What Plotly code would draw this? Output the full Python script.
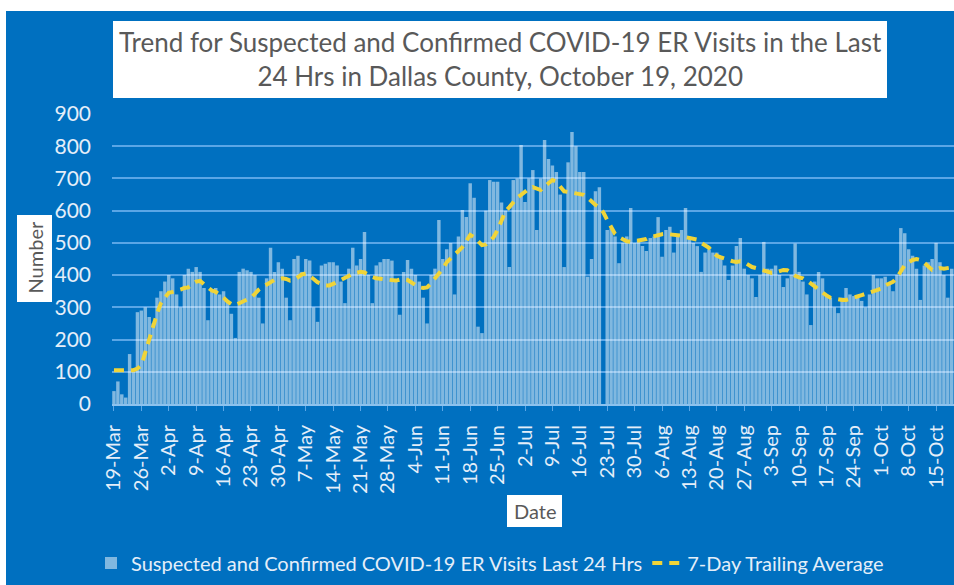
import pandas as pd
import plotly.graph_objects as go

start_date = "2020-03-19"

# Daily suspected + confirmed COVID-19 ER visits (Mar 19 - Oct 19, 2020)
visits = [
    40, 70, 30, 20, 155, 100, 285,
    290, 300, 270, 250, 330, 350, 380,
    400, 390, 340, 300, 400, 420, 410,
    425, 410, 360, 260, 350, 360, 340,
    350, 320, 280, 205, 410, 420, 415,
    410, 400, 330, 250, 390, 485, 410,
    440, 420, 330, 260, 450, 460, 410,
    450, 445, 300, 255, 430, 435, 440,
    440, 430, 380, 313, 420, 485, 430,
    450, 534, 400, 313, 430, 440, 450,
    450, 445, 380, 277, 410, 447, 420,
    400, 380, 330, 250, 400, 420, 571,
    450, 480, 500, 340, 520, 602, 580,
    685, 640, 240, 220, 600, 695, 690,
    690, 625, 600, 425, 695, 700, 804,
    627, 700, 726, 540, 700, 819, 760,
    740, 720, 650, 425, 750, 844, 800,
    720, 720, 395, 450, 660, 673, 0,
    540, 545, 520, 437, 500, 520, 608,
    500, 510, 490, 475, 515, 520, 580,
    457, 540, 550, 470, 520, 540, 608,
    520, 500, 490, 410, 470, 480, 470,
    470, 460, 430, 385, 430, 490, 515,
    420, 400, 390, 332, 400, 503, 420,
    420, 430, 400, 363, 390, 400, 498,
    410, 380, 340, 245, 380, 410, 390,
    340, 330, 300, 282, 330, 360, 340,
    335, 330, 320, 300, 340, 400, 390,
    390, 395, 370, 350, 400, 546, 530,
    480, 460, 420, 323, 430, 440, 450,
    500, 440, 400, 330, 420,
]

# 7-day trailing average
trailing_avg = [
    105, 105, 105, 103, 105, 105, 110,
    120, 160, 205, 240, 280, 313, 330,
    345, 348, 350, 355, 360, 362, 372,
    380, 382, 372, 360, 352, 348, 340,
    330, 318, 310, 307, 312, 318, 322,
    330, 342, 355, 363, 370, 378, 385,
    387, 390, 388, 383, 385, 395, 402,
    405, 398, 388, 378, 372, 368, 368,
    372, 378, 385, 392, 398, 404, 407,
    410, 408, 400, 394, 390, 388, 388,
    385, 382, 383, 386, 388, 385, 378,
    368, 362, 360, 362, 375, 392, 405,
    420, 440, 452, 462, 475, 487, 505,
    525, 518, 505, 493, 495, 505, 518,
    540, 570, 598, 611, 625, 640, 649,
    660, 668, 673, 668, 664, 675, 686,
    695, 690, 676, 660, 658, 655, 652,
    650, 649, 640, 628, 618, 611, 595,
    571, 548, 528, 518, 510, 505, 503,
    505, 507, 509, 512, 518, 522, 525,
    527, 528, 527, 526, 525, 522, 518,
    516, 515, 510, 500, 493, 485, 470,
    460, 455, 450, 446, 443, 441, 443,
    440, 432, 425, 422, 418, 412, 408,
    407, 408, 412, 416, 415, 405, 398,
    393, 390, 383, 375, 365, 355, 345,
    337, 330, 327, 324, 323, 323, 326,
    330, 334, 338, 342, 346, 350, 354,
    358, 368, 375, 379, 392, 410, 431,
    440, 447, 450, 447, 438, 425, 416,
    418, 422, 420, 422, 424,
]

dates = pd.date_range(start_date, periods=len(visits), freq="D")

title_text = ("Trend for Suspected and Confirmed COVID-19 ER Visits in the Last<br>"
              "24 Hrs in Dallas County, October 19, 2020")
bar_name = "Suspected and Confirmed COVID-19 ER Visits Last 24 Hrs"
line_name = "7-Day Trailing Average"

BLUE = "#0070C0"
LIGHT = "#e4eef9"
GRID = "#5aa6e6"
DARK_TXT = "#595959"
FONT = "Lato, Calibri, sans-serif"

fig = go.Figure()
fig.add_trace(go.Bar(
    x=dates, y=visits, name=bar_name,
    marker=dict(color="rgba(255,255,255,0.5)", line=dict(width=0)),
))
fig.add_trace(go.Scatter(
    x=dates, y=trailing_avg, name=line_name, mode="lines",
    line=dict(color="#F0D438", width=4, dash="10px,7px"),
))

# geometry (pixels)
W, H = 954, 585
L, R, T, B = 112, 0, 114, 181
pw = W - L - R
ph = H - T - B

def px(x):
    return (x - L) / pw

def py(y):
    return (H - B - y) / ph

shapes = [
    dict(type="rect", xref="paper", yref="paper", layer="below",
         x0=px(6), x1=px(W), y0=py(H), y1=py(11),
         fillcolor=BLUE, line=dict(width=0)),
    dict(type="rect", xref="paper", yref="paper", layer="above",
         x0=px(113), x1=px(887), y0=py(98), y1=py(21),
         fillcolor="white", line=dict(width=0)),
    dict(type="rect", xref="paper", yref="paper", layer="above",
         x0=px(17), x1=px(52), y0=py(302), y1=py(215),
         fillcolor="white", line=dict(width=0)),
    dict(type="rect", xref="paper", yref="paper", layer="above",
         x0=px(507), x1=px(562), y0=py(527), y1=py(495),
         fillcolor="white", line=dict(width=0)),
]

annotations = [
    dict(text=title_text, xref="paper", yref="paper", x=px(500), y=py(59),
         xanchor="center", yanchor="middle", showarrow=False,
         font=dict(family=FONT, size=26, color=DARK_TXT), align="center"),
    dict(text="Number", xref="paper", yref="paper", x=px(34.5), y=py(258),
         xanchor="center", yanchor="middle", showarrow=False, textangle=-90,
         font=dict(family=FONT, size=20, color=DARK_TXT)),
    dict(text="Date", xref="paper", yref="paper", x=px(534.5), y=py(511),
         xanchor="center", yanchor="middle", showarrow=False,
         font=dict(family=FONT, size=20, color=DARK_TXT)),
]

fig.update_layout(
    width=W, height=H,
    margin=dict(l=L, r=R, t=T, b=B, pad=0),
    paper_bgcolor="white",
    plot_bgcolor="rgba(0,0,0,0)",
    bargap=0.12,
    shapes=shapes,
    annotations=annotations,
    showlegend=True,
    legend=dict(orientation="h", x=px(490), y=py(563), xanchor="center", yanchor="middle",
                font=dict(family=FONT, size=20, color=LIGHT),
                bgcolor="rgba(0,0,0,0)", itemwidth=30, tracegroupgap=0),
    font=dict(family=FONT, color=LIGHT),
)

fig.update_xaxes(
    type="date",
    range=["2020-03-18 12:00", "2020-10-19 14:00"],
    tick0=start_date, dtick=7 * 86400000, tickformat="%-d-%b",
    tickangle=-90, ticks="outside", ticklen=5, tickcolor=GRID, tickwidth=1,
    ticklabelstandoff=6,
    tickfont=dict(family=FONT, size=20, color=LIGHT),
    showgrid=False, showline=True, linecolor="#8cc2ee", linewidth=2,
    zeroline=False,
)
fig.update_yaxes(
    range=[0, 900], dtick=100, tick0=0,
    showgrid=True, gridcolor=GRID, gridwidth=2,
    zeroline=False, showline=False, ticks="",
    ticklabelstandoff=20,
    tickfont=dict(family=FONT, size=21, color=LIGHT),
)

fig.write_html("out.html")
